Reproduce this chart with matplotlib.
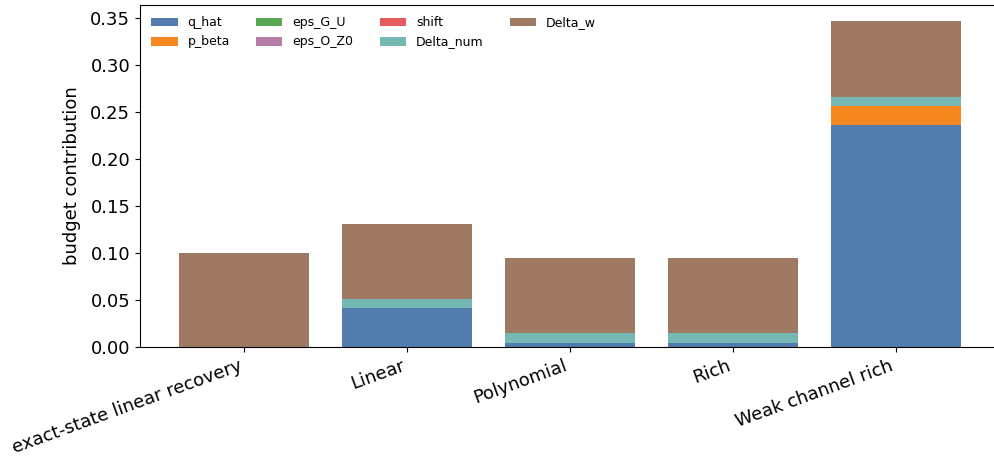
import matplotlib
matplotlib.use("Agg")
import matplotlib.pyplot as plt
import numpy as np

categories = ['exact-state linear recovery', 'Linear', 'Polynomial', 'Rich', 'Weak channel rich']
components = ['q_hat', 'p_beta', 'eps_G_U', 'eps_O_Z0', 'shift', 'Delta_num', 'Delta_w']

q_hat     = [0.0,   0.041, 0.0046, 0.0046, 0.236]
p_beta    = [0.0,   0.0,   0.0,    0.0,    0.0205]
eps_G_U   = [0.0,   0.0,   0.0,    0.0,    0.0]
eps_O_Z0  = [0.0,   0.0,   0.0,    0.0,    0.0]
shift     = [0.0,   0.0,   0.0,    0.0,    0.0]
Delta_num = [0.0,   0.010, 0.010,  0.010,  0.0097]
Delta_w   = [0.100, 0.080, 0.080,  0.0797, 0.080]

colors = ['#4c78a8', '#f58518', '#54a24b', '#b279a2', '#e45756', '#72b7b2', '#9d755d']

fig = plt.figure(figsize=(9.94, 4.58), dpi=100)
ax = fig.add_axes([140/994, 111/458, 860/994, 342/458])

x = np.arange(len(categories))
bottom = np.zeros(len(categories))
for name, vals, c in zip(components, [q_hat, p_beta, eps_G_U, eps_O_Z0, shift, Delta_num, Delta_w], colors):
    ax.bar(x, vals, 0.8, bottom=bottom, color=c, alpha=0.97, label=name)
    bottom += np.array(vals)

ax.set_xticks(x)
ax.set_xticklabels(categories, rotation=20, ha='right', fontsize=13)
ax.tick_params(axis='y', labelsize=13)
ax.set_ylabel('budget contribution', fontsize=13, labelpad=7)
ax.legend(loc='upper left', ncol=4, frameon=False, fontsize=9,
          handlelength=2.1, columnspacing=2.1)

fig.savefig('out.png', dpi=100)
